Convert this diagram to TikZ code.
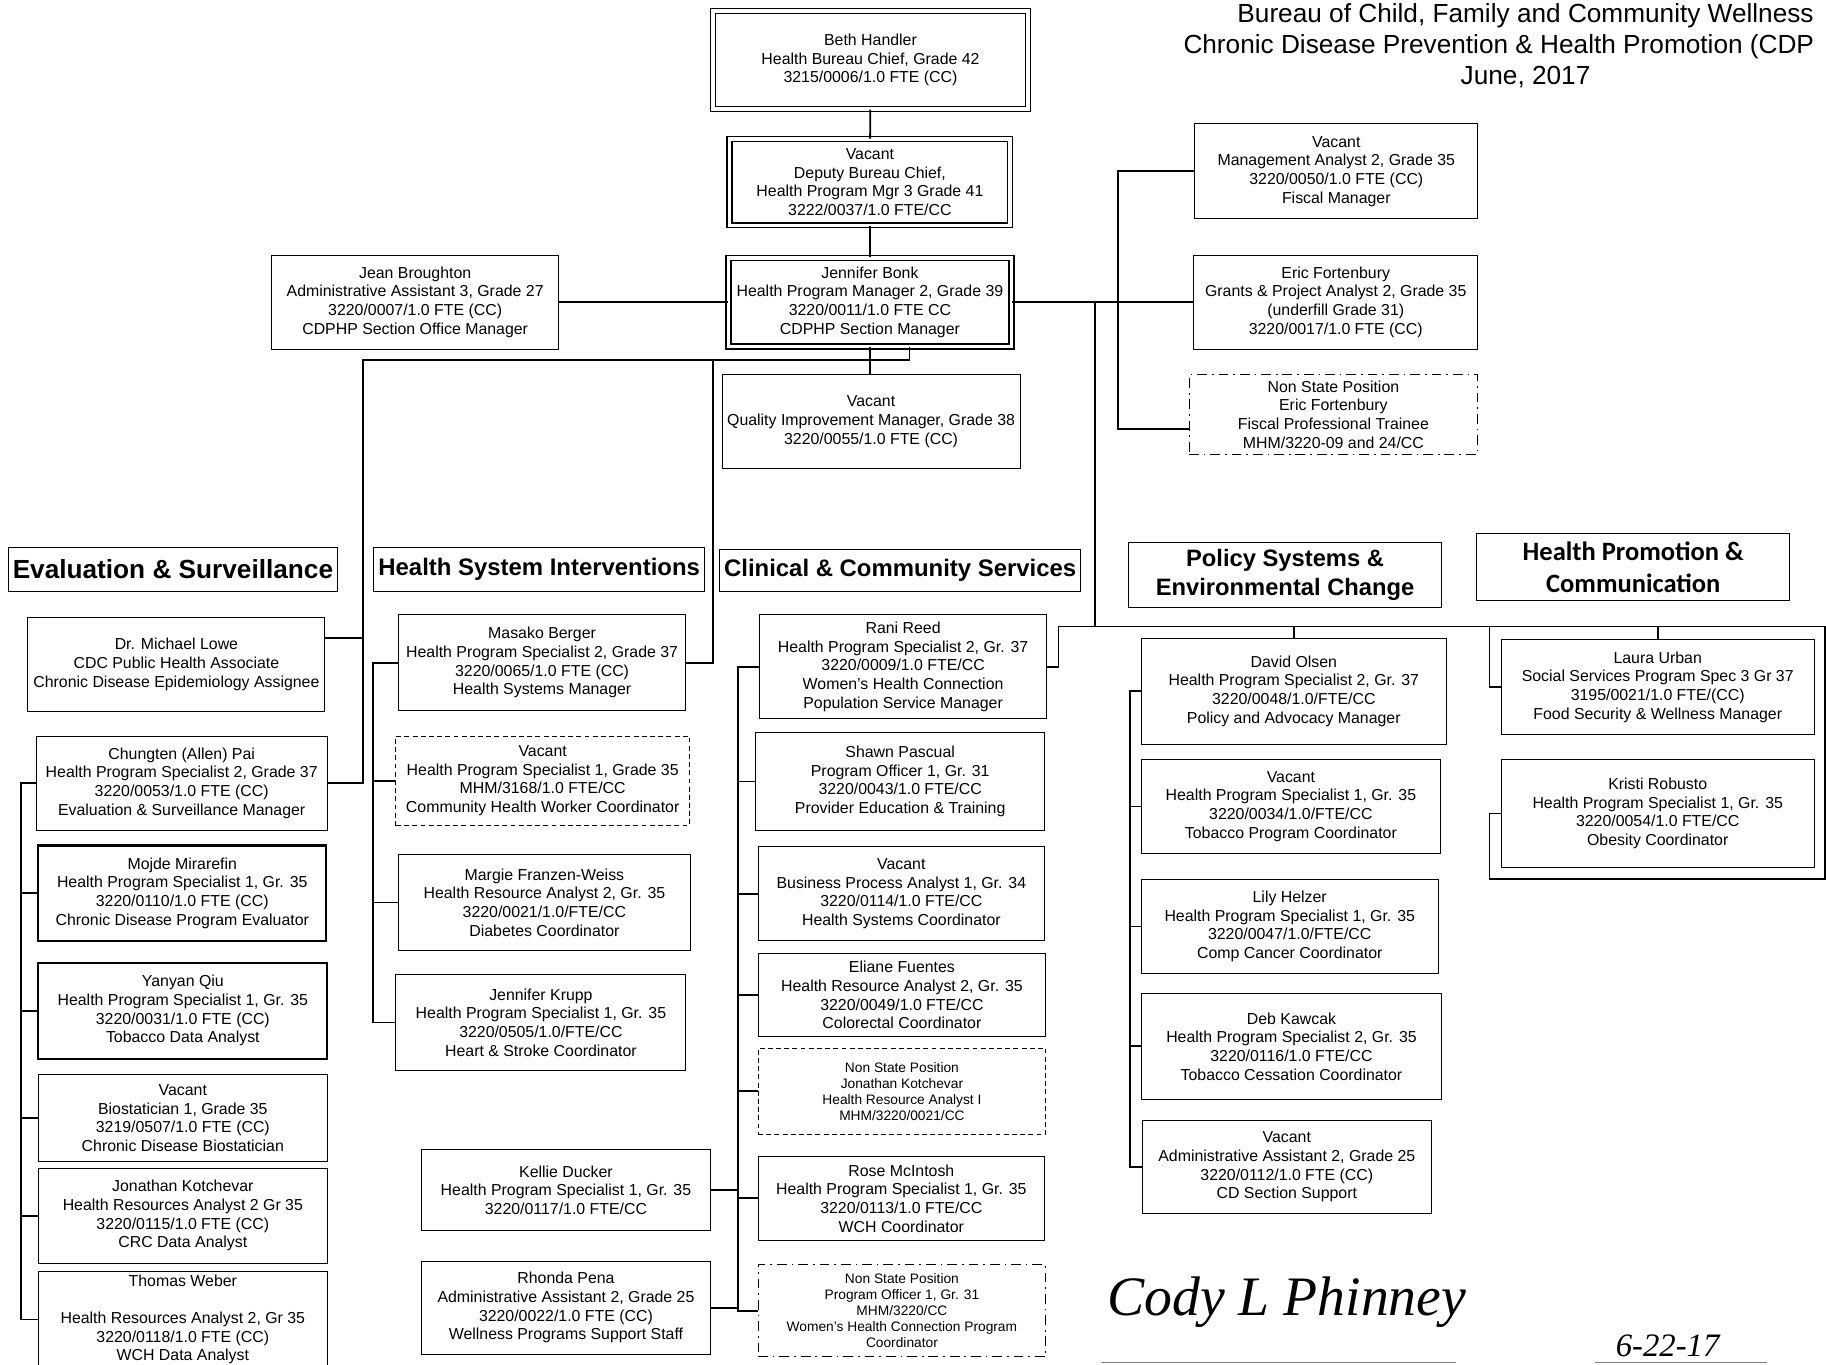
\documentclass[tikz,border=0pt]{standalone}
\usepackage{fontspec}
\setmainfont{Liberation Sans}
\newfontfamily\hpcfont{Carlito}
\newfontfamily\sigfont{Liberation Serif}

\tikzset{
  wh/.style 2 args={minimum width=#1*0.025cm, minimum height=#2*0.025cm},
  box/.style={draw, line width=0.6pt, align=center, inner sep=0pt,
    font=\fontsize{9.7}{11.4}\selectfont},
  dbox/.style={box, double, double distance=2.2pt, line width=0.8pt},
  thickbox/.style={box, line width=1.3pt},
  dashbox/.style={box, dash pattern=on 3pt off 2pt},
  nsbox/.style={box, dash pattern=on 6pt off 3pt on 1pt off 3pt},
  smalltext/.style={font=\fontsize{8.4}{9.8}\selectfont},
  sechead/.style={draw, line width=0.6pt, align=center, inner sep=0pt,
    font=\bfseries\fontsize{14.6}{17.8}\selectfont},
  titletext/.style={inner sep=0pt, text height=11.5pt, text depth=3pt,
    font=\fontsize{16}{19.2}\selectfont},
  conn/.style={line width=1.1pt},
}

\begin{document}
\begin{tikzpicture}[x=0.025cm,y=-0.025cm]
  \useasboundingbox (0,0) rectangle (1568,1172);

  % title
  \node[titletext] (title1) at (1310,13) {Bureau of Child, Family and Community Wellness};
  \node[titletext,anchor=west] (title2) at (1016,40) {Chronic Disease Prevention \& Health Promotion (CDP};
  \node[titletext] (title3) at (1310,67) {June, 2017};

  % top of the section
  \node[dbox,wh={270}{84}] (handler) at (747.5,51.5) {Beth Handler\\Health Bureau Chief, Grade 42\\3215/0006/1.0 FTE (CC)};
  \node[dbox,wh={241}{74}] (deputy) at (747,156.5) {Vacant\\Deputy Bureau Chief,\\Health Program Mgr 3 Grade 41\\3222/0037/1.0 FTE/CC};
  \node[dbox,wh={243}{76}] (bonk) at (747,259.5) {Jennifer Bonk\\Health Program Manager 2, Grade 39\\3220/0011/1.0 FTE CC\\CDPHP Section Manager};
  \node[box,wh={247}{81}] (broughton) at (356.5,259.5) {Jean Broughton\\Administrative Assistant 3, Grade 27\\3220/0007/1.0 FTE (CC)\\CDPHP Section Office Manager};
  \node[box,wh={256}{80}] (quality) at (748,362) {Vacant\\Quality Improvement Manager, Grade 38\\3220/0055/1.0 FTE (CC)};
  \node[box,wh={243}{82}] (fiscal) at (1147.5,147) {Vacant\\Management Analyst 2, Grade 35\\3220/0050/1.0 FTE (CC)\\Fiscal Manager};
  \node[box,wh={244}{81}] (grants) at (1147,259.5) {Eric Fortenbury\\Grants \& Project Analyst 2, Grade 35\\(underfill Grade 31)\\3220/0017/1.0 FTE (CC)};
  \node[nsbox,wh={248}{68}] (trainee) at (1145,356) {Non State Position\\Eric Fortenbury\\Fiscal Professional Trainee\\MHM/3220-09 and 24/CC};

  % section headings
  \node[sechead,wh={283}{38},font=\bfseries\fontsize{16}{19}\selectfont] (evalhd) at (148.5,489) {Evaluation \& Surveillance};
  \node[sechead,wh={284}{38}] (hsihd) at (463,489) {Health System Interventions};
  \node[sechead,wh={310}{36}] (ccshd) at (773,490) {Clinical \& Community Services};
  \node[sechead,wh={269}{56},font=\bfseries\fontsize{14.5}{17.8}\selectfont] (psechd) at (1103.5,494) {Policy Systems \&\\Environmental Change};
  \node[sechead,wh={269}{58},font=\hpcfont\bfseries\fontsize{16.2}{19.2}\selectfont] (hpchd) at (1402.5,487) {Health Promotion \&\\Communication};

  % evaluation & surveillance
  \node[box,wh={255}{81}] (lowe) at (151.5,570.5) {Dr. Michael Lowe\\CDC Public Health Associate\\Chronic Disease Epidemiology Assignee};
  \node[box,wh={250}{81}] (pai) at (156,672.5) {Chungten (Allen) Pai\\Health Program Specialist 2, Grade 37\\3220/0053/1.0 FTE (CC)\\Evaluation \& Surveillance Manager};
  \node[thickbox,wh={247}{82}] (mirarefin) at (156.5,767) {Mojde Mirarefin\\Health Program Specialist 1, Gr. 35\\3220/0110/1.0 FTE (CC)\\Chronic Disease Program Evaluator};
  \node[thickbox,wh={248}{82}] (qiu) at (157,868) {Yanyan Qiu\\Health Program Specialist 1, Gr. 35\\3220/0031/1.0 FTE (CC)\\Tobacco Data Analyst};
  \node[box,wh={248}{74}] (biostat) at (157,960) {Vacant\\Biostatician 1, Grade 35\\3219/0507/1.0 FTE (CC)\\Chronic Disease Biostatician};
  \node[box,wh={248}{82}] (kotchevar) at (157,1044) {Jonathan Kotchevar\\Health Resources Analyst 2 Gr 35\\3220/0115/1.0 FTE (CC)\\CRC Data Analyst};
  \node[box,wh={248}{82}] (weber) at (157,1133) {Thomas Weber\\[11.4pt]Health Resources Analyst 2, Gr 35\\3220/0118/1.0 FTE (CC)\\WCH Data Analyst};

  % health system interventions
  \node[box,wh={247}{82}] (berger) at (465.5,569) {Masako Berger\\Health Program Specialist 2, Grade 37\\3220/0065/1.0 FTE (CC)\\Health Systems Manager};
  \node[dashbox,wh={252}{77}] (chw) at (466,670.5) {Vacant\\Health Program Specialist 1, Grade 35\\MHM/3168/1.0 FTE/CC\\Community Health Worker Coordinator};
  \node[box,wh={251}{82}] (franzen) at (467.5,775) {Margie Franzen-Weiss\\Health Resource Analyst 2, Gr. 35\\3220/0021/1.0/FTE/CC\\Diabetes Coordinator};
  \node[box,wh={249}{82}] (krupp) at (464.5,878) {Jennifer Krupp\\Health Program Specialist 1, Gr. 35\\3220/0505/1.0/FTE/CC\\Heart \& Stroke Coordinator};
  \node[box,wh={248}{70}] (ducker) at (486,1022) {Kellie Ducker\\Health Program Specialist 1, Gr. 35\\3220/0117/1.0 FTE/CC};
  \node[box,wh={248}{80}] (pena) at (486,1123) {Rhonda Pena\\Administrative Assistant 2, Grade 25\\3220/0022/1.0 FTE (CC)\\Wellness Programs Support Staff};

  % clinical & community services
  \node[box,wh={247}{89}] (reed) at (775.5,572.5) {Rani Reed\\Health Program Specialist 2, Gr. 37\\3220/0009/1.0 FTE/CC\\Women's Health Connection\\Population Service Manager};
  \node[box,wh={248}{84}] (pascual) at (773,671) {Shawn Pascual\\Program Officer 1, Gr. 31\\3220/0043/1.0 FTE/CC\\Provider Education \& Training};
  \node[box,wh={246}{81}] (process) at (774,767.5) {Vacant\\Business Process Analyst 1, Gr. 34\\3220/0114/1.0 FTE/CC\\Health Systems Coordinator};
  \node[box,wh={247}{71}] (fuentes) at (774.5,854.5) {Eliane Fuentes\\Health Resource Analyst 2, Gr. 35\\3220/0049/1.0 FTE/CC\\Colorectal Coordinator};
  \node[dashbox,smalltext,wh={247}{74}] (nsanalyst) at (774.5,937) {Non State Position\\Jonathan Kotchevar\\Health Resource Analyst I\\MHM/3220/0021/CC};
  \node[box,wh={246}{72}] (mcintosh) at (774,1029) {Rose McIntosh\\Health Program Specialist 1, Gr. 35\\3220/0113/1.0 FTE/CC\\WCH Coordinator};
  \node[nsbox,smalltext,wh={247}{79}] (nsofficer) at (774.5,1125.5) {Non State Position\\Program Officer 1, Gr. 31\\MHM/3220/CC\\Women's Health Connection Program\\Coordinator};

  % policy systems & environmental change
  \node[box,wh={262}{91}] (olsen) at (1111,593.5) {David Olsen\\Health Program Specialist 2, Gr. 37\\3220/0048/1.0/FTE/CC\\Policy and Advocacy Manager};
  \node[box,wh={257}{81}] (tobacco) at (1108.5,692.5) {Vacant\\Health Program Specialist 1, Gr. 35\\3220/0034/1.0/FTE/CC\\Tobacco Program Coordinator};
  \node[box,wh={255}{81}] (helzer) at (1107.5,795.5) {Lily Helzer\\Health Program Specialist 1, Gr. 35\\3220/0047/1.0/FTE/CC\\Comp Cancer Coordinator};
  \node[box,wh={258}{91}] (kawcak) at (1109,898.5) {Deb Kawcak\\Health Program Specialist 2, Gr. 35\\3220/0116/1.0 FTE/CC\\Tobacco Cessation Coordinator};
  \node[box,wh={248}{80}] (support) at (1105,1002) {Vacant\\Administrative Assistant 2, Grade 25\\3220/0112/1.0 FTE (CC)\\CD Section Support};

  % health promotion & communication
  \node[box,wh={269}{82}] (urban) at (1423.5,590) {Laura Urban\\Social Services Program Spec 3 Gr 37\\3195/0021/1.0 FTE/(CC)\\Food Security \& Wellness Manager};
  \node[box,wh={269}{93}] (robusto) at (1423.5,698.5) {Kristi Robusto\\Health Program Specialist 1, Gr. 35\\3220/0054/1.0 FTE/CC\\Obesity Coordinator};

  % bus points
  \coordinate (esbus) at (312,309);
  \coordinate (hsbus) at (612,309);
  \coordinate (fbus) at (960,259.5);
  \coordinate (hub) at (940,538);
  \coordinate (busL) at (909,538);
  \coordinate (busR) at (1567,538);
  \coordinate (frameBR) at (1567,755);
  \coordinate (frameBL) at (1279,755);
  \coordinate (esl) at (18,0);
  \coordinate (hsl) at (320,0);
  \coordinate (ccl) at (634,0);
  \coordinate (pbus) at (970,0);

  % connectors
  \draw[conn] (handler) -- (deputy);
  \draw[conn] (deputy) -- (bonk);
  \draw[conn] (bonk.west) -- (broughton.east);
  \draw[conn] (bonk.south) -- (bonk.south |- quality.north);
  \draw[conn] (bonk.east) -- (grants.west);
  \draw[conn] (fiscal.west) -| (fbus) |- ([yshift=0.55cm]trainee.south west);
  \draw[conn] (hub |- bonk.east) -- (hub);
  \draw[conn] ([xshift=0.85cm]bonk.south) |- (esbus) |- (pai.east);
  \draw[conn] ([yshift=0.56cm]lowe.east) -| (esbus);
  \draw[conn] (hsbus) |- (berger.east);
  \draw[conn] (reed.east) -| (busL) -- (busR) -- (frameBR) -- (frameBL) |- (robusto.west);
  \draw[conn] (frameBL |- busR) |- (urban.west);
  \draw[conn] (urban.north) -- (urban.north |- busR);
  \draw[conn] (olsen.north) -- (olsen.north |- busR);

  \draw[conn] (pai.west) -| (esl |- weber.west) -- (weber.west);
  \foreach \n in {mirarefin,qiu,biostat,kotchevar}
    \draw[conn] (\n.west) -- (esl |- \n.west);
  \draw[conn] (berger.west) -| (hsl |- krupp.west) -- (krupp.west);
  \foreach \n in {chw,franzen}
    \draw[conn] (\n.west) -- (hsl |- \n.west);
  \draw[conn] (reed.west) -| (ccl |- nsofficer.west) -- (nsofficer.west);
  \foreach \n in {pascual,process,fuentes,nsanalyst,mcintosh}
    \draw[conn] (\n.west) -- (ccl |- \n.west);
  \foreach \n in {ducker,pena}
    \draw[conn] (\n.east) -- (ccl |- \n.east);
  \draw[conn] (olsen.west) -| (pbus |- support.west) -- (support.west);
  \foreach \n in {tobacco,helzer,kawcak}
    \draw[conn] (\n.west) -- (pbus |- \n.west);

  % signature
  \node[font=\sigfont\itshape\fontsize{34}{34}\selectfont] (sig) at (1105,1118) {Cody L Phinney};
  \node[font=\sigfont\itshape\fontsize{20}{20}\selectfont] (date) at (1432,1156) {6-22-17};
  \draw[gray, line width=0.5pt] (945,1170) -- (1250,1170);
  \draw[gray, line width=0.5pt] (1370,1170) -- (1517,1170);
\end{tikzpicture}
\end{document}
